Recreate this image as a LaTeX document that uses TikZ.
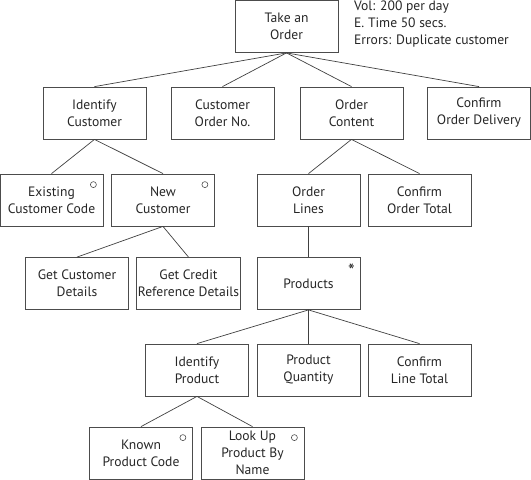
\documentclass[tikz,border=0pt]{standalone}
\usepackage{fontspec}
\setmainfont{PT Sans}
\begin{document}
\begin{tikzpicture}[x=1pt, y=-1pt,
taskbox/.style={rectangle, draw=black!70, line width=0.8pt, text=black!85, minimum width=103, minimum height=52, align=center, inner sep=1pt, font=\fontsize{13.6}{17}\selectfont},
optmark/.style={circle, draw=black!70, line width=0.6pt, minimum size=6, inner sep=0pt},
itermark/.style={text=black!85, inner sep=0pt, font=\fontsize{19}{19}\selectfont},
notetext/.style={align=left, anchor=north west, inner sep=0pt, text=black!85, font=\fontsize{13.6}{17}\selectfont},
]
\useasboundingbox (0,0) rectangle (531,480);
%Nodes
\node[taskbox] at (286.5,26.5) (order)     {Take an\\Order};
\node[notetext] at (354,1) (note)     {Vol: 200 per day\\E. Time 50 secs.\\Errors: Duplicate customer};
\node[taskbox] at (94.5,113) (idcust)     {Identify\\Customer};
\node[taskbox] at (222.5,113) (custno)     {Customer\\Order No.};
\node[taskbox] at (351.5,113) (content)     {Order\\Content};
\node[taskbox] at (479,113) (delivery)     {Confirm\\Order Delivery};
\node[taskbox] at (51.5,200) (existing)     {Existing\\Customer Code};
\node[taskbox] at (163,200) (newcust)     {New\\Customer};
\node[taskbox] at (308.5,200) (lines)     {Order\\Lines};
\node[taskbox] at (419.5,200) (ordtotal)     {Confirm\\Order Total};
\node[taskbox] at (77,283.5) (getdet)     {Get Customer\\Details};
\node[taskbox] at (188.5,283.5) (credit)     {Get Credit\\Reference Details};
\node[taskbox] at (308.5,283.5) (products)     {Products};
\node[taskbox] at (197,370) (idprod)     {Identify\\Product};
\node[taskbox] at (308.5,370) (qty)     {Product\\Quantity};
\node[taskbox] at (419.5,370) (linetotal)     {Confirm\\Line Total};
\node[taskbox] at (141,453) (known)     {Known\\Product Code};
\node[taskbox] at (252.5,453) (lookup)     {Look Up\\Product By\\Name};
%Marks
\node[optmark] at ([xshift=-10,yshift=-11]existing.north east) (o1) {};
\node[optmark] at ([xshift=-10,yshift=-11]newcust.north east) (o2) {};
\node[optmark] at ([xshift=-10,yshift=-11]known.north east) (o3) {};
\node[optmark] at ([xshift=-10,yshift=-11]lookup.north east) (o4) {};
\node[itermark] at ([xshift=-9,yshift=-14]products.north east) (it) {*};
%Lines
\draw[-, black!75, line width=0.7pt] (order.south) -- (idcust.north);
\draw[-, black!75, line width=0.7pt] (order.south) -- (custno.north);
\draw[-, black!75, line width=0.7pt] (order.south) -- (content.north);
\draw[-, black!75, line width=0.7pt] (order.south) -- (delivery.north);
\draw[-, black!75, line width=0.7pt] (idcust.south) -- (existing.north);
\draw[-, black!75, line width=0.7pt] (idcust.south) -- (newcust.north);
\draw[-, black!75, line width=0.7pt] (content.south) -- (lines.north);
\draw[-, black!75, line width=0.7pt] (content.south) -- (ordtotal.north);
\draw[-, black!75, line width=0.7pt] (newcust.south) -- (getdet.north);
\draw[-, black!75, line width=0.7pt] (newcust.south) -- (credit.north);
\draw[-, black!75, line width=0.7pt] (lines.south) -- (products.north);
\draw[-, black!75, line width=0.7pt] (products.south) -- (idprod.north);
\draw[-, black!75, line width=0.7pt] (products.south) -- (qty.north);
\draw[-, black!75, line width=0.7pt] (products.south) -- (linetotal.north);
\draw[-, black!75, line width=0.7pt] (idprod.south) -- (known.north);
\draw[-, black!75, line width=0.7pt] (idprod.south) -- (lookup.north);
\end{tikzpicture}
\end{document}
